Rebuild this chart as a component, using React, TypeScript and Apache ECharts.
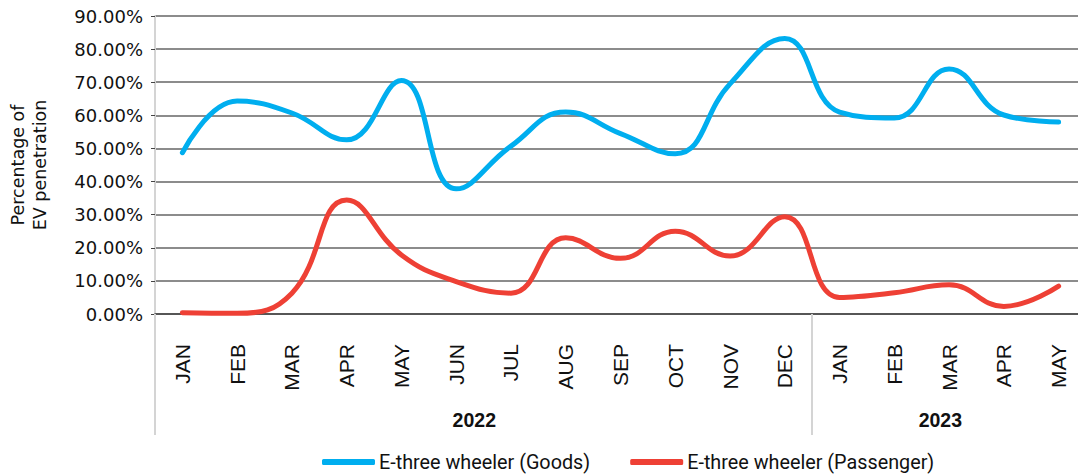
import React, { useEffect, useRef } from "react";
import * as echarts from "echarts";

const months = ["JAN", "FEB", "MAR", "APR", "MAY", "JUN", "JUL", "AUG", "SEP", "OCT", "NOV", "DEC", "JAN", "FEB", "MAR", "APR", "MAY"];
const years = ["2022", "2023"];
const goods = [48.7, 64.3, 60.7, 52.6, 70.5, 37.8, 50.7, 61.0, 54.5, 48.4, 69.5, 83.2, 61.0, 59.2, 74.0, 60.1, 58.0];
const passenger = [0.4, 0.2, 6.3, 34.4, 17.8, 9.8, 6.3, 23.0, 16.8, 25.0, 17.5, 29.4, 5.0, 6.4, 8.8, 2.3, 8.4];
const yTicks = [0, 10, 20, 30, 40, 50, 60, 70, 80, 90];

export default function App() {
  const ref = useRef<HTMLDivElement>(null);
  useEffect(() => {
    document.body.style.margin = "0";
    const chart = echarts.init(ref.current!, null, { renderer: "svg" });
    const lineFont = "Liberation Sans";
    chart.setOption({
      animation: false,
      grid: { left: 155, top: 16, right: -8, bottom: 160, containLabel: false, outerBoundsMode: "none" },
      legend: {
        top: 447,
        left: 317,
        itemGap: 40,
        itemWidth: 53,
        itemHeight: 6,
        icon: "roundRect",
        textStyle: { fontFamily: "Roboto", fontSize: 19.8, color: "#111", padding: [0, 0, 0, -1] },
        data: ["E-three wheeler (Goods)", "E-three wheeler (Passenger)"],
      },
      xAxis: [
        {
          type: "category",
          data: months,
          position: "bottom",
          axisLine: { show: true, lineStyle: { color: "#444", width: 1.5 } },
          axisTick: { show: false },
          axisLabel: { rotate: 90, margin: 30, interval: 0, fontFamily: lineFont, fontSize: 21, color: "#111" },
          splitLine: { show: false },
        },
        {
          type: "value",
          min: 0,
          max: 17,
          position: "bottom",
          axisLine: { show: false },
          axisTick: { show: true, customValues: [0, 12], length: 121, lineStyle: { color: "#d4d4d4", width: 2 } },
          axisLabel: {
            show: true,
            customValues: [5.83, 14.34],
            margin: 96,
            fontFamily: lineFont,
            fontSize: 19.5,
            fontWeight: "bold",
            color: "#111",
            formatter: (v: number) => (v < 12 ? years[0] : years[1]),
          },
          splitLine: { show: false },
        },
      ],
      yAxis: {
        type: "value",
        min: 0,
        max: 90,
        interval: 10,
        name: "Percentage of\nEV penetration",
        nameLocation: "middle",
        nameGap: 104,
        nameRotate: 90,
        nameTextStyle: { fontFamily: "DejaVu Sans", fontSize: 17.5, color: "#111", lineHeight: 22 },
        axisLine: { show: true, lineStyle: { color: "#d4d4d4", width: 2 } },
        axisTick: { show: true, length: 4, lineStyle: { color: "#444" } },
        axisLabel: {
          margin: 12,
          fontFamily: "DejaVu Sans",
          fontSize: 18,
          color: "#111",
          formatter: (v: number) => (yTicks.includes(v) ? v.toFixed(2) + "%" : ""),
        },
        splitLine: { show: true, lineStyle: { color: "#666", width: 1.5 } },
      },
      series: [
        {
          name: "E-three wheeler (Goods)",
          type: "line",
          data: goods,
          smooth: 0.45,
          symbol: "none",
          itemStyle: { color: "#00AEEF" },
          lineStyle: { color: "#00AEEF", width: 5, cap: "round", join: "round" },
        },
        {
          name: "E-three wheeler (Passenger)",
          type: "line",
          data: passenger,
          smooth: 0.45,
          symbol: "none",
          itemStyle: { color: "#EE4035" },
          lineStyle: { color: "#EE4035", width: 5, cap: "round", join: "round" },
        },
      ],
    });
    return () => chart.dispose();
  }, []);
  return <div ref={ref} style={{ width: 1078, height: 474 }} />;
}
